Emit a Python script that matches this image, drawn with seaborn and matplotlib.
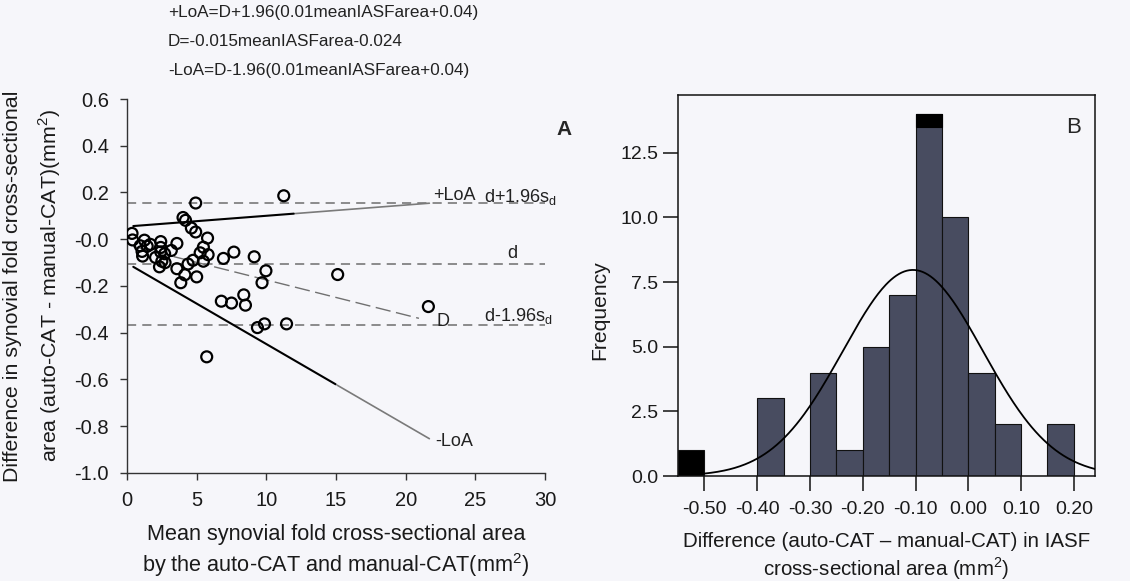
import numpy as np
import pandas as pd
import matplotlib
matplotlib.use("Agg")
import matplotlib.pyplot as plt
import seaborn as sns

# ---------------- data ----------------
# Bland-Altman: mean area (mm^2) and difference (mm^2) per synovial fold
mean_area = [0.36, 0.40, 1.25, 0.95, 1.08, 1.12, 1.68, 2.42, 2.42, 2.42,
             2.05, 2.50, 2.73, 2.33, 3.18, 3.58, 3.58, 4.15, 3.86, 4.02,
             4.20, 4.62, 4.93, 4.93, 5.78, 5.48, 5.82, 5.48, 4.74, 4.38,
             5.00, 5.72, 6.92, 7.67, 6.77, 7.50, 8.38, 8.50, 9.13, 9.97,
             9.69, 9.36, 9.87, 11.45, 11.25, 15.12, 21.63, 2.70, 1.45, 5.25]
difference = [0.025, -0.003, -0.004, -0.028, -0.052, -0.072, -0.022, -0.010, -0.035, -0.054,
              -0.078, -0.094, -0.100, -0.118, -0.048, -0.018, -0.126, -0.152, -0.186, 0.093,
              0.081, 0.048, 0.031, 0.155, 0.005, -0.034, -0.066, -0.094, -0.090, -0.106,
              -0.161, -0.503, -0.082, -0.055, -0.265, -0.273, -0.238, -0.282, -0.075, -0.135,
              -0.186, -0.378, -0.362, -0.362, 0.186, -0.151, -0.288, -0.062, -0.030, -0.058]

mean_diff = -0.105          # d
sd_diff = 0.1327            # s_d

# regression of difference on mean area: D = slope*x + intercept
d_slope, d_intercept = -0.015, -0.024
# residual SD model: 0.01*x + 0.04
res_slope, res_intercept = 0.01, 0.04

# Histogram of differences
bin_edges = [-0.55, -0.50, -0.45, -0.40, -0.35, -0.30, -0.25, -0.20,
             -0.15, -0.10, -0.05, 0.00, 0.05, 0.10, 0.15, 0.20]
counts = [1, 0, 0, 3, 0, 4, 1, 5, 7, 14, 10, 4, 2, 0, 2]

formula_lines = ["+LoA=D+1.96(0.01meanIASFarea+0.04)",
                 "D=-0.015meanIASFarea-0.024",
                 "-LoA=D-1.96(0.01meanIASFarea+0.04)"]

# ---------------- style ----------------
sns.set_theme(style="ticks")
plt.rcParams["font.family"] = ["Liberation Sans", "DejaVu Sans"]
plt.rcParams["mathtext.fontset"] = "custom"
plt.rcParams["mathtext.rm"] = "Liberation Sans"
bg = "#f6f6fa"
plt.rcParams["axes.facecolor"] = bg
plt.rcParams["figure.facecolor"] = bg

fig = plt.figure(figsize=(11.3, 5.81), dpi=100)
ax_a = fig.add_axes([0.1124, 0.1859, 0.3699, 0.6437])
ax_b = fig.add_axes([0.6000, 0.1807, 0.3690, 0.6558])

TICK_FS = 14.5
txt = "#1a1a1a"

# ---------------- panel A ----------------
sns.scatterplot(x=mean_area, y=difference, ax=ax_a, marker="o", s=62,
                facecolors="none", edgecolor="black", linewidth=1.6, zorder=5)

dash_grey = "#6e6e6e"
for yv in (mean_diff + 1.96 * sd_diff, mean_diff, mean_diff - 1.96 * sd_diff):
    ax_a.axhline(yv, color=dash_grey, lw=1.1, ls=(0, (6, 4)), zorder=2)

x_fit = np.linspace(0.45, 21.7, 200)
D = d_slope * x_fit + d_intercept
spread = 1.96 * (res_slope * x_fit + res_intercept)
upper = D + spread
lower = D - spread

x_D = x_fit[x_fit <= 21.0]
ax_a.plot(x_D, d_slope * x_D + d_intercept, color="#707070", lw=1.0,
          ls=(0, (11, 4)), zorder=3)

# limit lines: dark along most of their length, lighter towards the end
split_up, split_lo = 12.0, 15.0
m = x_fit <= split_up
ax_a.plot(x_fit[m], upper[m], color="black", lw=1.5, zorder=3)
ax_a.plot(x_fit[x_fit >= split_up], upper[x_fit >= split_up], color="#7a7a7a", lw=1.2, zorder=3)
m = x_fit <= split_lo
ax_a.plot(x_fit[m], lower[m], color="black", lw=1.5, zorder=3)
ax_a.plot(x_fit[x_fit >= split_lo], lower[x_fit >= split_lo], color="#7a7a7a", lw=1.2, zorder=3)

ax_a.set_xlim(0, 30)
ax_a.set_ylim(-1.0, 0.6)
ax_a.set_xticks(np.arange(0, 31, 5))
yt_a = np.round(np.arange(-1.0, 0.61, 0.2), 1)
ax_a.set_yticks(yt_a)
ax_a.set_yticklabels([f"{v:.1f}" for v in yt_a])
sns.despine(ax=ax_a)
for sp in ("left", "bottom"):
    ax_a.spines[sp].set_color("#333333")
    ax_a.spines[sp].set_linewidth(1.0)
ax_a.tick_params(axis="both", labelsize=TICK_FS, length=5, width=1.0, color="#333333",
                 labelcolor=txt)
ax_a.tick_params(axis="y", pad=8)
ax_a.tick_params(axis="x", pad=8)
ax_a.set_xlabel("Mean synovial fold cross-sectional area\nby the auto-CAT and manual-CAT(mm$^2$)",
                fontsize=15.6, labelpad=10, linespacing=1.3, color=txt)
ax_a.set_ylabel("Difference in synovial fold cross-sectional\narea (auto-CAT - manual-CAT)(mm$^2$)",
                fontsize=15.4, labelpad=8, linespacing=1.7, color=txt)

ann = dict(fontsize=13, color="#222222", clip_on=False)
ax_a.text(22.0, upper[-1] + 0.035, "+LoA", va="center", ha="left", **ann)
ax_a.text(25.6, mean_diff + 1.96 * sd_diff + 0.025, "d+1.96s$_\\mathregular{d}$", va="center", ha="left", **ann)
ax_a.text(27.3, mean_diff + 0.045, "d", va="center", ha="left", **ann)
ax_a.text(22.2, d_slope * 21.0 + d_intercept - 0.015, "D", va="center", ha="left", **ann)
ax_a.text(25.6, mean_diff - 1.96 * sd_diff + 0.035, "d-1.96s$_\\mathregular{d}$", va="center", ha="left", **ann)
ax_a.text(22.1, lower[-1] - 0.01, "-LoA", va="center", ha="left", **ann)
ax_a.text(31.4, 0.47, "A", fontsize=15, fontweight="bold", va="center", ha="center", clip_on=False)

for i, line in enumerate(formula_lines):
    fig.text(0.1487, 0.9707 - i * 0.0499, line, fontsize=12.3, ha="left", va="baseline", color="#222222")

# ---------------- panel B ----------------
edges = np.array(bin_edges)
centers = (edges[:-1] + edges[1:]) / 2
hist_df = pd.DataFrame({"difference": centers, "count": counts})
sns.histplot(data=hist_df, x="difference", weights="count", bins=list(edges), ax=ax_b,
             color="#484c60", edgecolor="#111111", linewidth=0.8, alpha=1.0)
ax_b.patches[0].set_facecolor("black")

peak = int(np.argmax(counts))
bw = edges[1] - edges[0]
ax_b.bar(centers[peak], 0.5, bottom=counts[peak] - 0.5, width=bw,
         color="black", edgecolor="black", linewidth=0.8, zorder=3)

n_obs = sum(counts)
xs = np.linspace(-0.50, 0.245, 300)
ys = n_obs * bw / (sd_diff * np.sqrt(2 * np.pi)) * np.exp(-0.5 * ((xs - mean_diff) / sd_diff) ** 2)
sns.lineplot(x=xs, y=ys, ax=ax_b, color="black", lw=1.3, zorder=4)

ax_b.set_xlim(-0.55, 0.24)
ax_b.set_ylim(0, 14.73)
xt = np.round(np.arange(-0.5, 0.201, 0.1), 2)
ax_b.set_xticks(xt)
ax_b.set_xticklabels([f"{v:.2f}" if abs(v) > 1e-9 else "0.00" for v in xt])
yt = np.arange(0, 12.6, 2.5)
ax_b.set_yticks(yt)
ax_b.set_yticklabels([f"{v:.1f}" for v in yt])
for sp in ax_b.spines.values():
    sp.set_visible(True)
    sp.set_color("#111111")
    sp.set_linewidth(1.1)
ax_b.tick_params(axis="both", labelsize=14, length=11, width=1.1, color="#111111", pad=3,
                 labelcolor=txt)
ax_b.tick_params(axis="x", pad=7)
ax_b.set_xlabel("Difference (auto-CAT \u2013 manual-CAT) in IASF\ncross-sectional area (mm$^2$)",
                fontsize=14.8, labelpad=10, linespacing=1.2, color=txt)
ax_b.set_ylabel("Frequency", fontsize=15.2, color=txt)
ax_b.yaxis.set_label_coords(-0.165, 0.436)
ax_b.text(0.199, 13.46, "B", fontsize=16, va="center", ha="center")

fig.savefig("out.png", dpi=100, facecolor=bg)
